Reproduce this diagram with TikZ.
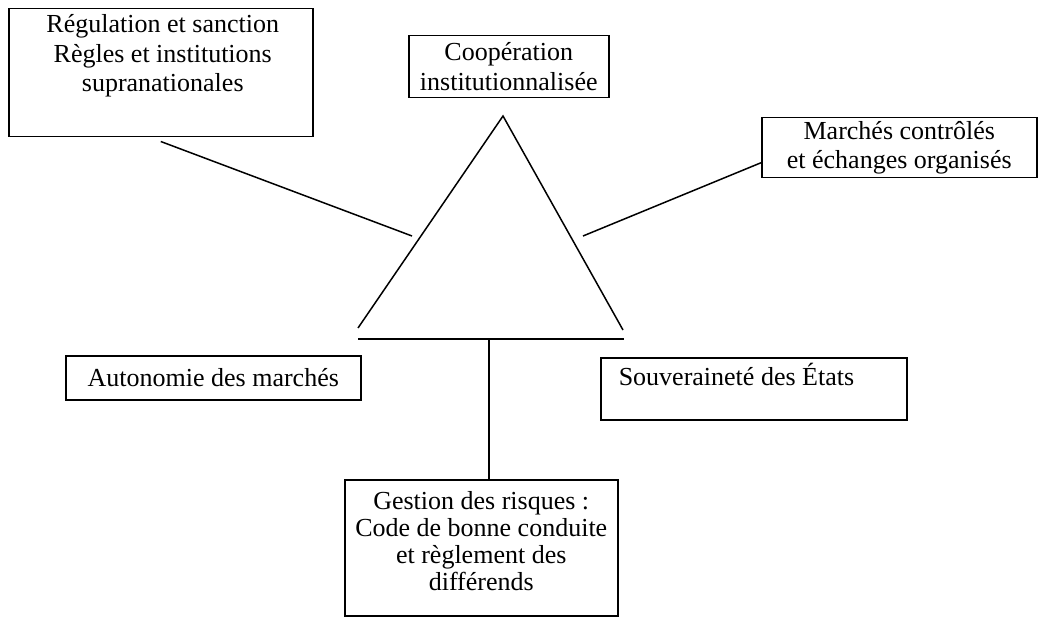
\documentclass[tikz,border=0pt]{standalone}
\usepackage{fontspec}
\setmainfont{Liberation Serif}
\usetikzlibrary{positioning}

\begin{document}
\begin{tikzpicture}[x=1pt,y=-1pt,line width=1.5pt]
\tikzstyle{cadre}=[draw,rectangle,inner sep=0pt,anchor=north west]
\tikzstyle{texte}=[inner sep=0pt,align=center,font=\fontsize{26}{29.5}\selectfont]
\useasboundingbox (0,0) rectangle (1040,617);
% les cadres
\node[cadre,minimum width=304pt,minimum height=128pt] (regul) at (8,8) {};
\node[texte,below=6pt of regul.north,xshift=2pt] (regultxt) {Régulation et sanction\\Règles et institutions\\supranationales};
\node[cadre,texte,minimum width=200pt,minimum height=62pt] (coop) at (408,35) {Coopération\\institutionnalisée};
\node[cadre,texte,minimum width=275pt,minimum height=60pt] (marches) at (761,117) {Marchés contrôlés\\et échanges organisés};
\node[cadre,texte,minimum width=295pt,minimum height=44pt] (autonomie) at (65,355) {Autonomie des marchés};
\node[cadre,minimum width=306pt,minimum height=62pt] (souv) at (600,357) {};
\node[texte,anchor=north west,below right=5pt and 18pt of souv.north west] (souvtxt) {Souveraineté des États};
\node[cadre,minimum width=273pt,minimum height=136pt] (gestion) at (344,479) {};
\node[texte,font=\fontsize{26}{27}\selectfont,below=12pt of gestion.north] (gestiontxt) {Gestion des risques :\\Code de bonne conduite\\et règlement des\\différends};
% le triangle
\coordinate (sommet) at (503,116);
\coordinate (piedg) at (358,328);
\coordinate (piedd) at (623,330);
\coordinate (baseg) at (358,339);
\coordinate (based) at (624,339);
\coordinate (basem) at (489,339);
\draw (piedg) -- (sommet) -- (piedd);
\draw (baseg) -- (based);
% les liens
\coordinate (finreg) at (412,236);
\coordinate (debmar) at (583,236);
\draw ([yshift=-4pt]regul.south) -- (finreg);
\draw (debmar) -- ([yshift=-15pt]marches.west);
\draw (basem) -- (basem |- gestion.north);
\end{tikzpicture}
\end{document}
